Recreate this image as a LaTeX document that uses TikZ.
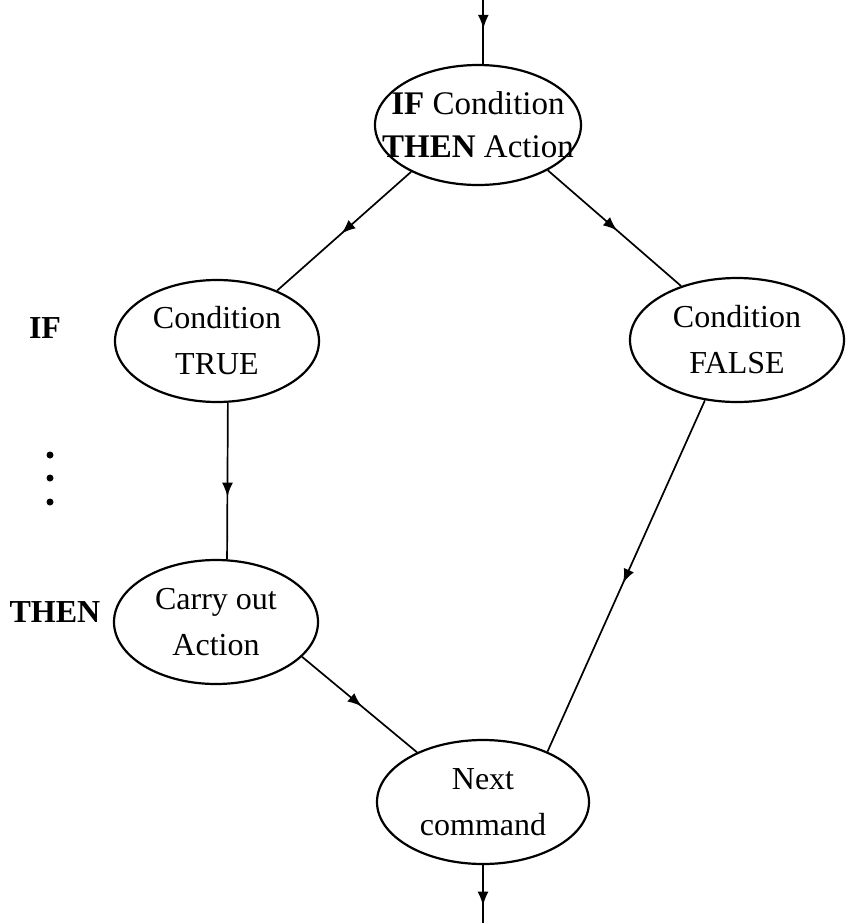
\documentclass[tikz,border=0pt]{standalone}
\usepackage{fontspec}
\setmainfont{Liberation Serif}
\usepackage{tikz}
\usetikzlibrary{shapes,arrows,positioning,calc,decorations.markings,arrows.meta}

\begin{document}
\begin{tikzpicture}[x=0.5pt, y=0.5pt,
    box/.style={draw, ellipse, line width=1.1pt, inner sep=0pt, align=center,
        font=\fontsize{16}{23}\selectfont},
    link/.style={line width=0.85pt},
    midarrow/.style={link, postaction={decorate}, decoration={markings,
        mark=at position #1 with {\arrow{Latex[length=7pt,width=5.5pt]}}}},
    midarrow/.default=0.52,
    side/.style={font=\fontsize{16}{20}\selectfont\bfseries}]
    \useasboundingbox (0,0) rectangle (852,-923);

    % IF ... THEN statement
    \node [box, minimum width=103pt, minimum height=60pt, inner xsep=-12pt,
        font=\fontsize{16.5}{21.5}\selectfont] (stmt) at (478,-125)
        {\textbf{IF} Condition\\\textbf{THEN} Action};
    \coordinate (in) at (stmt.85 |- 0,0);
    \draw [midarrow=0.45] (in) -- (stmt.85);

    % the two branches
    \node [box, minimum width=102pt, minimum height=61pt] (true) at (217,-341) {Condition\\TRUE};
    \node [box, minimum width=107pt, minimum height=62pt] (false) at (737,-340) {Condition\\FALSE};
    \node [box, minimum width=102pt, minimum height=62pt] (act) at (216,-622) {Carry out\\Action};
    \node [box, minimum width=106pt, minimum height=62pt] (next) at (483,-802) {Next\\command};

    \draw [midarrow] (stmt.215) -- (true.40);
    \draw [midarrow] (stmt.327) -- (false.136);
    \draw [midarrow=0.6] (true.-80) -- (act.80);
    \draw [midarrow] (false.242) -- (next.38);
    \draw [midarrow] (act.-22) -- (next.143);

    \coordinate (out) at (next.south |- 0,-923);
    \draw [midarrow=0.7] (next.south) -- (out);

    % side labels
    \node [side] (if) at (45,-328) {IF};
    \node [side] (then) at (55,-612) {THEN};
    \foreach \y in {455,478,502}
        \fill (50,-\y) circle (1.75pt);
\end{tikzpicture}
\end{document}
